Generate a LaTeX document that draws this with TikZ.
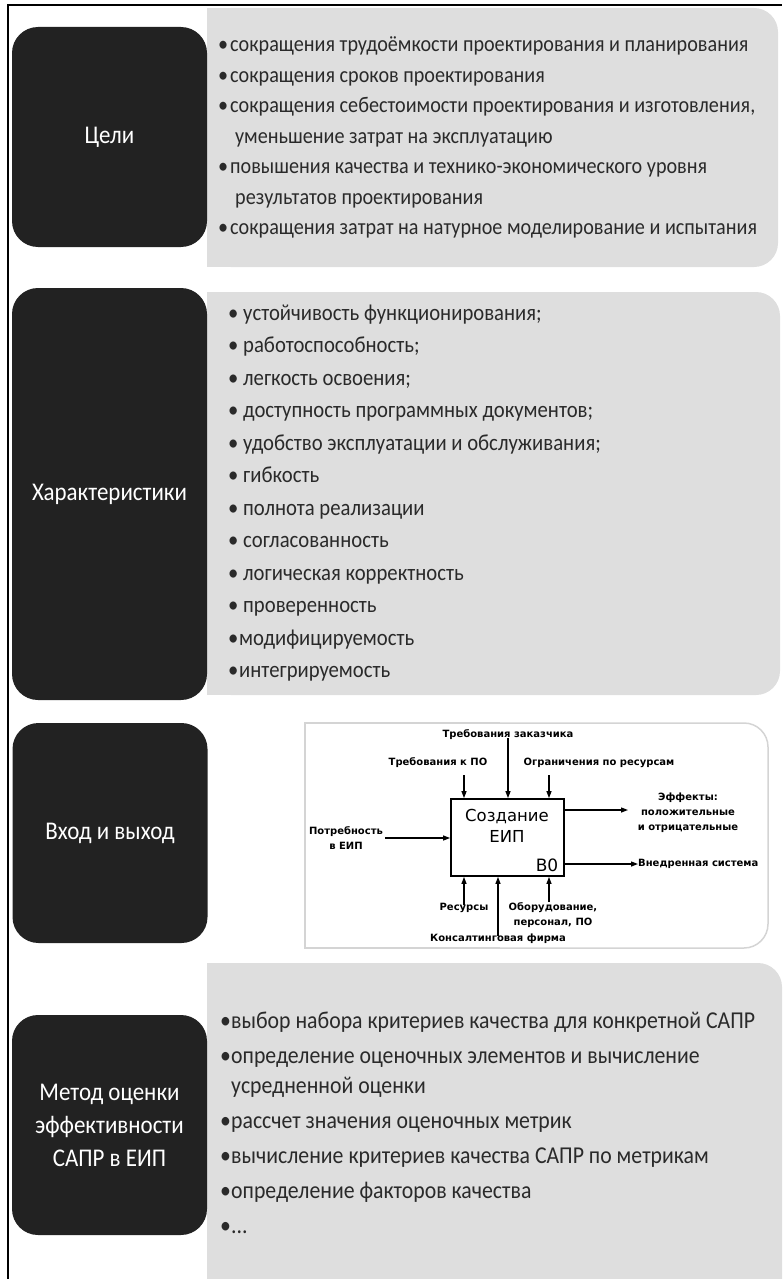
\documentclass[tikz,border=0pt]{standalone}
\usepackage{fontspec}
\setmainfont{Carlito}[FakeStretch=0.9]
\newfontfamily\idefont{DejaVu Sans}
\usetikzlibrary{positioning,arrows.meta,calc}

\definecolor{panelgray}{HTML}{DEDEDE}
\definecolor{boxblack}{HTML}{222222}
\definecolor{txtgray}{HTML}{2A2A2A}
\definecolor{rimgray}{HTML}{D4D4D4}
\newcommand{\bul}[1][12pt]{\makebox[#1][l]{\textbullet}}

\begin{document}
\begin{tikzpicture}[
        x=1pt, y=-1pt,
        blackbox/.style={rectangle, rounded corners=26pt, fill=boxblack, text=white, align=center, minimum width=195pt, font=\fontsize{25.5}{33}\selectfont},
        panel/.style={fill=panelgray},
        rim/.style={draw=rimgray, line width=1.5pt},
        list/.style={anchor=base west, text=txtgray, inner sep=0pt},
        lbl/.style={font=\idefont\bfseries\fontsize{10}{15}\selectfont, align=center, inner sep=0pt},
        arr/.style={-{Triangle[length=7pt,width=5pt]}, line width=1.2pt},
    ]
    \useasboundingbox (0,0) rectangle (782,1279);
    \draw[line width=1.2pt] (8,1279) -- (8,5) -- (782,5);

    % === Row 1: goals ===
    \fill[panel, rounded corners=24pt] (207,8) rectangle (778,267);
    \fill[panel] (207,8) rectangle (400,267);
    \node[blackbox, minimum height=220pt] (goals) at (109.5,137) {Цели};
    \node[list, font=\fontsize{22.4}{30.5}\selectfont] (goallist) at (218,52) {%
        \begin{tabular}[t]{@{}l@{}}
        \bul сокращения трудоёмкости проектирования и планирования\\
        \bul сокращения сроков проектирования\\
        \bul сокращения себестоимости проектирования и изготовления,\\
        \hspace*{17pt}уменьшение затрат на эксплуатацию\\
        \bul повышения качества и технико-экономического уровня\\
        \hspace*{17pt}результатов проектирования\\
        \bul сокращения затрат на натурное моделирование и испытания
        \end{tabular}};

    % === Row 2: properties ===
    \fill[panel, rounded corners=24pt] (207,292) rectangle (780,695);
    \fill[panel] (207,292) rectangle (400,695);
    \node[blackbox, minimum height=412pt] (props) at (109.5,494) {Характеристики};
    \node[list, font=\fontsize{23}{32.5}\selectfont] (proplist) at (228,320) {%
        \begin{tabular}[t]{@{}l@{}}
        \bul[15pt]устойчивость функционирования;\\
        \bul[15pt]работоспособность;\\
        \bul[15pt]легкость освоения;\\
        \bul[15pt]доступность программных документов;\\
        \bul[15pt]удобство эксплуатации и обслуживания;\\
        \bul[15pt]гибкость\\
        \bul[15pt]полнота реализации\\
        \bul[15pt]согласованность\\
        \bul[15pt]логическая корректность\\
        \bul[15pt]проверенность\\
        \bul[11pt]модифицируемость\\
        \bul[11pt]интегрируемость
        \end{tabular}};

    % === Row 3: input and output ===
    \node[blackbox, minimum height=220pt] (inout) at (110,833) {Вход и выход};
    \draw[rim] (500,948) -- (305,948) -- (305,723) -- (500,723);
    \draw[rim, rounded corners=24pt] (500,723) -| (768,948) -- (500,948);

    \node[draw, line width=1.8pt, fill=white, minimum width=113pt, minimum height=77pt] (idef) at (507.5,837.5) {};
    \node[font=\idefont\fontsize{16.5}{21}\selectfont, align=center, inner sep=0pt] (idefname) at (507,826) {Создание\\ЕИП};
    \node[font=\idefont\fontsize{17}{21}\selectfont, inner sep=0pt] (idefno) at (547,865) {В0};

    % controls
    \node[lbl] (custreq) at (508,735) {Требования заказчика};
    \node[lbl] (swreq) at (438,763) {Требования к ПО};
    \node[lbl] (reslim) at (599,763) {Ограничения по ресурсам};
    \coordinate (swin) at (464,775);
    \coordinate (limin) at (549,775);
    \draw[arr] ([yshift=2pt]custreq.south) -- (custreq.south |- idef.north);
    \draw[arr] (swin) -- (swin |- idef.north);
    \draw[arr] (limin) -- (limin |- idef.north);

    % input
    \node[lbl] (need) at (346,838) {Потребность\\в ЕИП};
    \draw[arr] ([xshift=2pt]need.east) -- (need.east -| idef.west);

    % outputs
    \node[lbl] (effects) at (688,813) {Эффекты:\\положительные\\и отрицательные};
    \coordinate (effin) at (628,810);
    \draw[arr] (idef.east |- effin) -- (effin);
    \node[lbl, anchor=west] (impl) at (638,864) {Внедренная система};
    \draw[arr] (idef.east |- impl.west) -- (impl.west);

    % mechanisms
    \node[lbl] (res) at (464,908) {Ресурсы};
    \node[lbl] (equip) at (553,915) {Оборудование,\\персонал, ПО};
    \node[lbl] (consult) at (498,939) {Консалтинговая фирма};
    \coordinate (eqin) at (549,902);
    \draw[arr] ([yshift=-2pt]res.north) -- (res.north |- idef.south);
    \draw[arr] (eqin) -- (eqin |- idef.south);
    \draw[arr] ([yshift=-2pt]consult.north) -- (consult.north |- idef.south);

    % === Row 4: evaluation method ===
    \fill[panel, rounded corners=24pt] (207,963) rectangle (782,1320);
    \fill[panel] (207,963) rectangle (400,1320);
    \node[blackbox, minimum height=220pt] (method) at (109.5,1125) {Метод оценки\\эффективности\\САПР в ЕИП};
    \node[list, font=\fontsize{24.2}{35}\selectfont] (methodlist) at (220,1028) {%
        \begin{tabular}[t]{@{}l@{}}
        \bul[11pt]выбор набора критериев качества для конкретной САПР\\
        \bul[11pt]определение оценочных элементов и вычисление\\[-5pt]
        \hspace*{11pt}усредненной оценки\\
        \bul[11pt]рассчет значения оценочных метрик\\
        \bul[11pt]вычисление критериев качества САПР по метрикам\\
        \bul[11pt]определение факторов качества\\
        \bul[11pt]...
        \end{tabular}};
\end{tikzpicture}
\end{document}
